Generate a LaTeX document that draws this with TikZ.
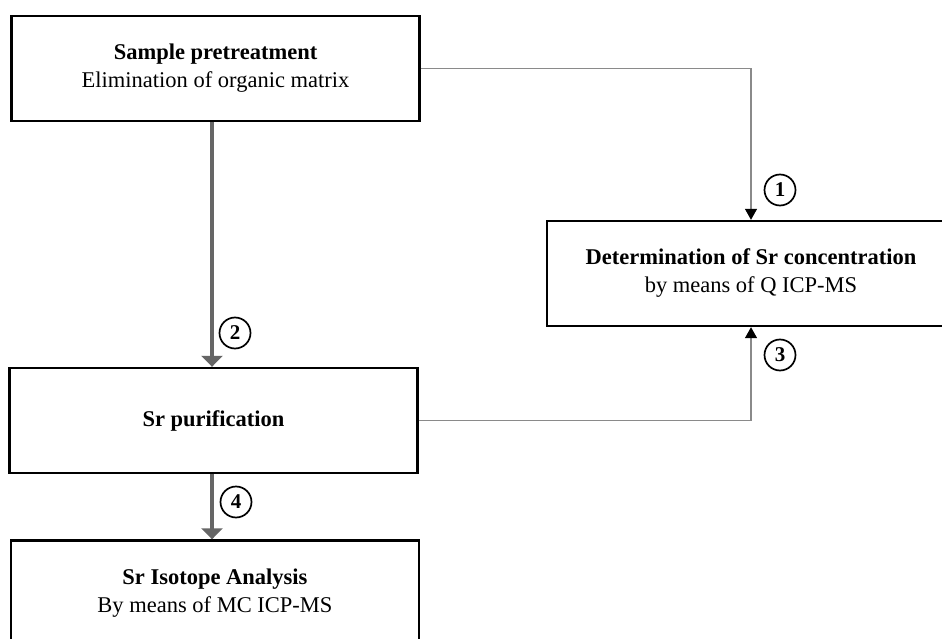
\documentclass[tikz,border=0pt]{standalone}
\usepackage{fontspec}
\setmainfont{Liberation Serif}
\usetikzlibrary{arrows.meta,calc}
\definecolor{thinline}{HTML}{8A8A8A}
\definecolor{thickline}{HTML}{666666}
\tikzset{
  procbox/.style={draw=black, line width=2.4pt, fill=white, align=center,
    minimum width=408pt, minimum height=105pt, inner sep=0pt,
    font=\fontsize{22.5}{28}\selectfont},
  thinarrow/.style={draw=thinline, line width=1.3pt,
    -{Triangle[length=11pt,width=12pt,color=black]}},
  thickarrow/.style={draw=thickline, line width=3.2pt,
    -{Triangle[length=11pt,width=21pt,color=thickline]}},
  numcirc/.style={circle, draw=black, line width=1.7pt, minimum size=31pt,
    inner sep=0pt, font=\bfseries\fontsize{21}{21}\selectfont},
}
\begin{document}
\begin{tikzpicture}[x=1pt,y=-1pt]
\useasboundingbox (0,0) rectangle (942,639);
\clip (0,0) rectangle (942,639);
\fill[white] (0,0) rectangle (942,639);

\node[procbox] (b1) at (215.5,68.5) {\textbf{Sample pretreatment}\\Elimination of organic matrix};
\node[procbox] (b2) at (751,273.5) {\textbf{Determination of Sr concentration}\\by means of Q ICP-MS};
\node[procbox] (b3) at (213.5,420.5) {\textbf{Sr purification}};
\node[procbox] (b4) at (215,593) {\textbf{Sr Isotope Analysis}\\By means of MC ICP-MS};

\draw[thinarrow] (b1.east) -| (b2.north);
\draw[thinarrow] (b3.east) -| (b2.south);
\draw[thickarrow] ([xshift=-3.5pt]b1.south) -- ([xshift=-3.5pt]b1.south |- b3.north);
\draw[thickarrow] ([xshift=-1.5pt]b3.south) -- ([xshift=-1.5pt]b3.south |- b4.north);

\node[numcirc] (c1) at (780,190) {1};
\node[numcirc] (c2) at (235,333) {2};
\node[numcirc] (c3) at (780,355) {3};
\node[numcirc] (c4) at (236,502) {4};
\end{tikzpicture}
\end{document}
